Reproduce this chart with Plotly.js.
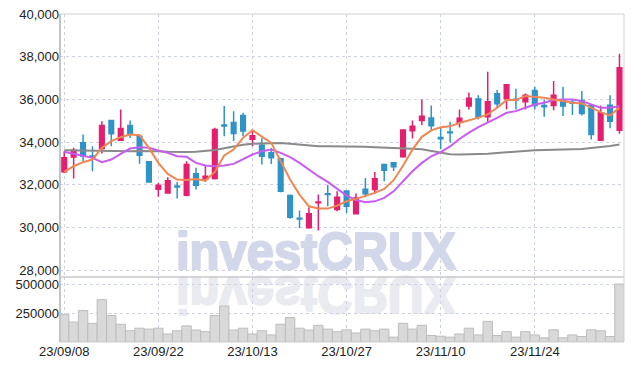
<!DOCTYPE html>
<html>
<head>
<meta charset="utf-8">
<script src="https://cdn.plot.ly/plotly-3.0.1.min.js"></script>
<style>
html,body{margin:0;padding:0;background:#fff;}
#wrap{position:relative;width:634px;height:370px;}
#wm{position:absolute;left:0;top:0;}
#chart{position:absolute;left:0;top:0;width:634px;height:370px;}
</style>
</head>
<body>
<div id="wrap">
<svg id="wm" width="634" height="370" xmlns="http://www.w3.org/2000/svg">
  <text x="176" y="269" font-family="Liberation Sans, Arial, sans-serif" font-weight="bold" font-size="52" fill="#d2d8ea" stroke="#d2d8ea" stroke-width="2.2" stroke-linejoin="round" textLength="280" lengthAdjust="spacingAndGlyphs">investCRUX</text>
  <text x="176" y="269" transform="translate(0,546) scale(1,-1)" font-family="Liberation Sans, Arial, sans-serif" font-weight="bold" font-size="52" fill="#eaeaf1" stroke="#eaeaf1" stroke-width="2.2" stroke-linejoin="round" textLength="280" lengthAdjust="spacingAndGlyphs">investCRUX</text>
</svg>
<div id="chart"></div>
</div>
<script>
const dates = ['23/09/08','23/09/11','23/09/12','23/09/13','23/09/14','23/09/15','23/09/18','23/09/19','23/09/20','23/09/21',
'23/09/22','23/09/25','23/09/26','23/09/27','23/10/04','23/10/05','23/10/06','23/10/10','23/10/11','23/10/12',
'23/10/13','23/10/16','23/10/17','23/10/18','23/10/19','23/10/20','23/10/23','23/10/24','23/10/25','23/10/26',
'23/10/27','23/10/30','23/10/31','23/11/01','23/11/02','23/11/03','23/11/06','23/11/07','23/11/08','23/11/09',
'23/11/10','23/11/13','23/11/14','23/11/15','23/11/16','23/11/17','23/11/20','23/11/21','23/11/22','23/11/23',
'23/11/24','23/11/27','23/11/28','23/11/29','23/11/30','23/12/01','23/12/04','23/12/05','23/12/06','23/12/07'];

const openP  = [32610,33310,33970,33350,33700,35010,34090,34780,34280,33080,
31800,31620,31950,31520,32520,32280,32300,34800,34920,35250,
34140,33860,33500,33220,31500,30440,29990,31160,31590,30850,
31720,30650,31800,31780,32960,33040,33320,34540,35010,35130,
34220,34480,34930,35690,36020,35190,36270,36030,36010,35890,
36420,35720,35720,35950,35870,35950,35720,34090,35730,34560];
const highP  = [33580,33740,34360,33810,34980,35010,35530,35010,34360,33110,
32090,32360,32140,33110,32800,32920,34670,35690,35450,35380,
34590,34200,33730,33270,31550,30800,30950,31550,32010,31700,
31720,31600,32320,32600,32960,33040,34610,35010,36000,35720,
34690,34960,35530,36320,36200,37300,36440,36690,36500,36280,
36590,36000,36860,36590,36000,36390,35720,35720,36200,38140];
const lowP   = [32560,32300,33110,32640,33470,33810,34050,34200,32990,32100,
31440,31590,31360,31470,31780,32140,32250,34280,34050,34280,
33810,32950,32980,31660,30420,29980,29950,29870,31000,30770,
30690,30620,31420,31590,32170,32650,33270,34170,34800,34540,
33670,33980,34690,35530,35060,34910,35610,35530,35530,35530,
35530,35190,35500,35220,35270,35250,34130,34090,34650,34390];
const closeP = [33270,33620,33350,33290,34780,34400,34640,34390,33390,32130,
31980,32200,31900,32950,31980,32410,34590,34760,34410,34520,
34300,33340,33270,31700,30480,30400,30650,31200,31550,31420,
31000,31390,31590,32290,32690,32850,34570,34740,35210,34770,
34160,34440,35120,36060,35170,35890,35800,36690,35970,36200,
35720,35660,36200,35690,35820,35340,34360,35380,34980,37480];

const ma5  = [32609,32875,33063,33188,33734,34047,34234,34359,34328,33734,
33031,32516,32250,32234,32281,32203,32609,33375,33656,34203,
34563,34281,33969,33109,32250,31547,31000,30891,30891,31031,
31234,31344,31469,31625,31813,32219,32900,33650,34250,34550,
34700,34740,34898,35008,35150,35297,35609,35969,35969,36156,
36125,36078,36000,35922,35844,35813,35609,35406,35250,35609];
const ma20 = [33547,33453,33344,33266,33063,33188,33453,33703,33766,33734,
33609,33500,33344,33313,33031,32906,32875,32906,32984,33188,
33422,33578,33656,33500,33297,33031,32719,32406,32141,31800,
31500,31290,31190,31230,31390,31700,32170,32640,33030,33340,
33530,33800,34150,34450,34700,34906,35141,35375,35453,35609,
35766,35844,35969,36000,36000,35922,35766,35609,35609,35688];
const maLong = [33620,33610,33600,33590,33580,33580,33580,33580,33590,33600,
33580,33550,33530,33540,33550,33580,33630,33720,33810,33880,
33930,33950,33960,33965,33930,33890,33840,33815,33810,33810,
33800,33790,33780,33765,33740,33710,33700,33690,33670,33600,
33500,33440,33420,33425,33440,33455,33490,33530,33560,33590,
33620,33630,33640,33650,33660,33680,33730,33770,33820,33890];

const volume = [236000,172000,272000,161000,365000,228000,153000,97000,119000,111000,
119000,69000,97000,139000,103000,89000,228000,311000,103000,119000,
69000,97000,61000,153000,211000,119000,103000,144000,111000,89000,
105000,78000,111000,97000,111000,42000,161000,111000,144000,56000,
50000,42000,69000,119000,61000,178000,56000,89000,42000,89000,
61000,36000,105000,36000,61000,47000,105000,97000,47000,500000];

const tickIdx = [0,10,20,30,40,50];
const xTickVals = tickIdx.map(i => dates[i]);
const priceTicks = [28000,30000,32000,34000,36000,38000,40000];
const volTicks = [250000,500000];

const UP = '#e51f6e', DOWN = '#2f93c6';
const LINE_FONT = {family:'Liberation Sans, Arial, sans-serif', size:13, color:'#222'};
const GRID = '#cfd2e2';

const traces = [
  {type:'bar', x:dates, y:volume, xaxis:'x', yaxis:'y2',
   marker:{color:'#d9d9d9', line:{color:'#bdbdbd', width:1}}, hoverinfo:'skip'},
  {type:'candlestick', x:dates, open:openP, high:highP, low:lowP, close:closeP,
   xaxis:'x', yaxis:'y', whiskerwidth:0,
   increasing:{line:{color:UP, width:1.5}, fillcolor:UP},
   decreasing:{line:{color:DOWN, width:1.5}, fillcolor:DOWN}, hoverinfo:'skip'},
  {type:'scatter', mode:'lines', x:dates, y:maLong, xaxis:'x', yaxis:'y',
   line:{color:'#8a8a8a', width:2}, hoverinfo:'skip'},
  {type:'scatter', mode:'lines', x:dates, y:ma20, xaxis:'x', yaxis:'y',
   line:{color:'#c95cf0', width:2}, hoverinfo:'skip'},
  {type:'scatter', mode:'lines', x:dates, y:ma5, xaxis:'x', yaxis:'y',
   line:{color:'#ef8752', width:2}, hoverinfo:'skip'}
];

const VD = 0.198;
const layout = {
  width:634, height:370,
  margin:{l:60, r:10, t:14, b:28},
  paper_bgcolor:'rgba(0,0,0,0)', plot_bgcolor:'rgba(0,0,0,0)',
  showlegend:false, hovermode:false, bargap:0,
  font:LINE_FONT,
  xaxis:{type:'category', anchor:'y2', range:[-0.45,59.48],
    rangeslider:{visible:false},
    tickmode:'array', tickvals:xTickVals, ticktext:xTickVals,
    showgrid:true, gridcolor:GRID, griddash:'dot', gridwidth:1,
    ticks:'', showline:false, zeroline:false, tickfont:LINE_FONT},
  yaxis:{domain:[VD,1], anchor:'x', range:[27686,40000],
    tickmode:'array', tickvals:priceTicks, tickformat:',d',
    showgrid:true, gridcolor:GRID, griddash:'dot', gridwidth:1,
    zeroline:false, ticks:'', showline:false, tickfont:LINE_FONT},
  yaxis2:{domain:[0,VD], anchor:'x', range:[0,560000],
    tickmode:'array', tickvals:volTicks, tickformat:'d',
    showgrid:true, gridcolor:GRID, griddash:'dot', gridwidth:1,
    zeroline:false, ticks:'', showline:false, tickfont:LINE_FONT},
  shapes:[
    {type:'rect', xref:'paper', yref:'paper', x0:0, x1:1, y0:0, y1:1,
     line:{color:'#d2d2d2', width:1}, layer:'above'},
    {type:'line', xref:'paper', yref:'paper', x0:0, x1:0, y0:0, y1:1,
     line:{color:'#c4c4c4', width:2}, layer:'above'},
    {type:'line', xref:'paper', yref:'paper', x0:0, x1:1, y0:VD, y1:VD,
     line:{color:'#c8c8c8', width:1.5}, layer:'above'}
  ]
};

Plotly.newPlot('chart', traces, layout, {displayModeBar:false, staticPlot:true});
</script>
</body>
</html>
